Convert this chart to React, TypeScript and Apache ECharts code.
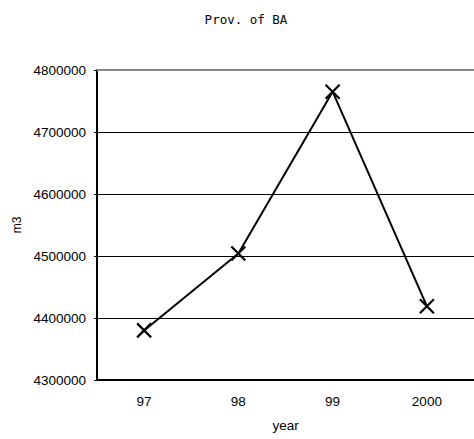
import React, { useEffect, useRef } from "react";
import * as echarts from "echarts";

const years = ["97", "98", "99", "2000"];
const volumes = [4380000, 4504000, 4765000, 4419000];
const yMin = 4300000;
const yMax = 4800000;
const yStep = 100000;

export default function App() {
  const ref = useRef<HTMLDivElement>(null);
  useEffect(() => {
    if (!ref.current) return;
    const chart = echarts.init(ref.current, null, { renderer: "svg" });
    chart.setOption({
      animation: false,
      backgroundColor: "#fff",
      title: {
        text: "Prov. of BA",
        left: 241,
        top: 8,
        textAlign: "center",
        textStyle: {
          fontFamily: "DejaVu Sans Mono",
          fontSize: 12.5,
          fontWeight: "normal",
          color: "#000",
        },
      },
      grid: { left: 97, top: 70, width: 380, height: 310 },
      xAxis: [
        {
          type: "category",
          data: years,
          boundaryGap: true,
          name: "year",
          nameLocation: "middle",
          nameGap: 38,
          nameTextStyle: { fontFamily: "Liberation Sans", fontSize: 13.5, color: "#000" },
          axisLine: { lineStyle: { color: "#000", width: 2 } },
          axisTick: { inside: true, length: 4, lineStyle: { color: "#000" } },
          axisLabel: { fontFamily: "Liberation Sans", fontSize: 13.5, color: "#000", margin: 14 },
          splitLine: { show: false },
        },
        {
          type: "category",
          data: years,
          position: "top",
          axisLine: { lineStyle: { color: "#888", width: 2 } },
          axisTick: { show: false },
          axisLabel: { show: false },
        },
      ],
      yAxis: {
        type: "value",
        min: yMin,
        max: yMax,
        interval: yStep,
        name: "m3",
        nameLocation: "middle",
        nameRotate: 90,
        nameGap: 73,
        nameTextStyle: { fontFamily: "Liberation Sans", fontSize: 12, color: "#000" },
        axisLine: { show: true, lineStyle: { color: "#000", width: 2 } },
        axisTick: { show: true, length: 3, lineStyle: { color: "#000" } },
        axisLabel: {
          fontFamily: "Liberation Sans",
          fontSize: 13.5,
          color: "#000",
          margin: 11,
          formatter: (v: number) => String(v),
        },
        splitLine: { show: true, lineStyle: { color: "#000", width: 1 } },
      },
      series: [
        {
          type: "line",
          data: volumes,
          symbol: "path://M0,0L10,10M10,0L0,10",
          symbolSize: 14,
          showAllSymbol: true,
          lineStyle: { color: "#000", width: 2 },
          itemStyle: { color: "none", borderColor: "#000", borderWidth: 2.2 },
        },
      ],
    });
    return () => chart.dispose();
  }, []);
  return <div ref={ref} style={{ width: 474, height: 439, position: "absolute", left: 0, top: 0 }} />;
}
